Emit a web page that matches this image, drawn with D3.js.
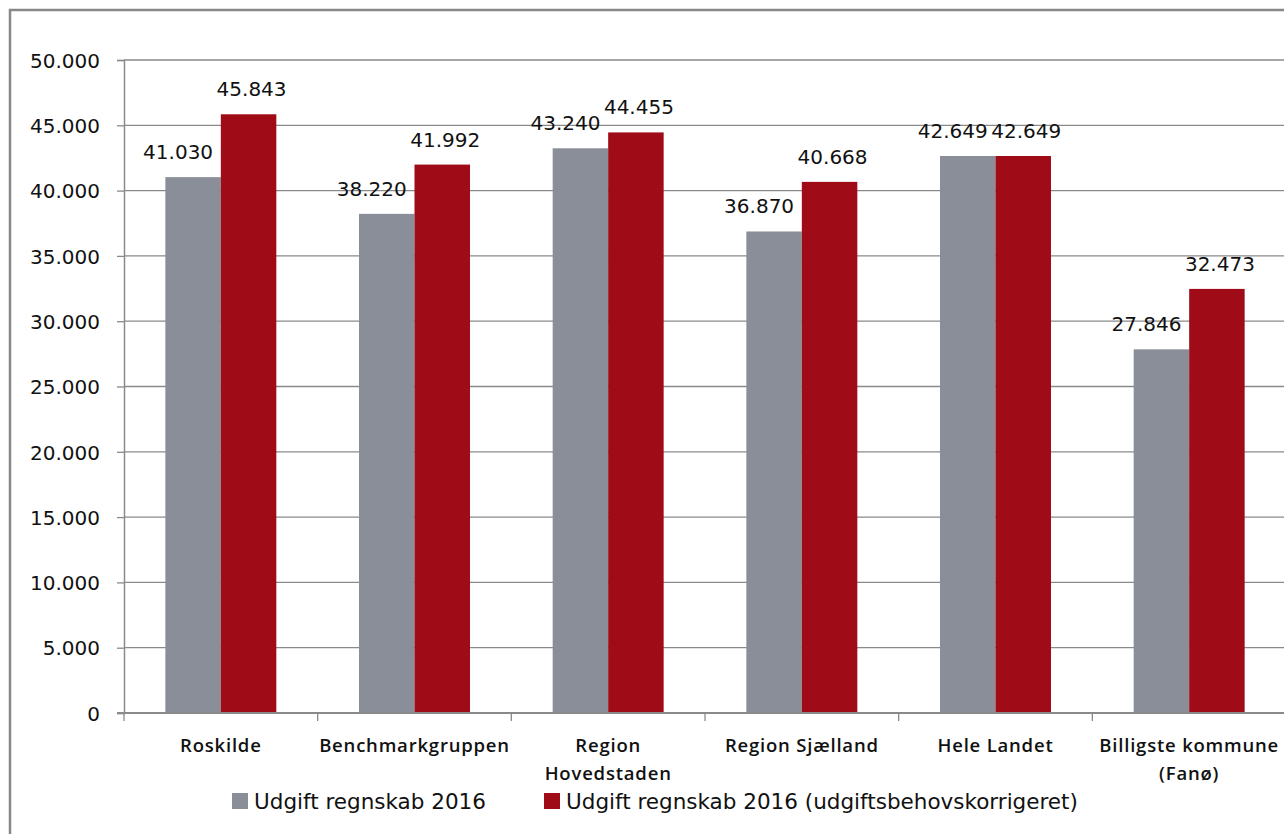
<!DOCTYPE html>
<html>
<head>
<meta charset="utf-8">
<script src="https://cdnjs.cloudflare.com/ajax/libs/d3/7.8.5/d3.min.js"></script>
<style>
  body { margin: 0; background: #fff; overflow: hidden; }
  svg { display: block; }
</style>
</head>
<body>
<svg id="chart" width="1284" height="834"></svg>
<script>
const categories = [
  ["Roskilde"],
  ["Benchmarkgruppen"],
  ["Region", "Hovedstaden"],
  ["Region Sjælland"],
  ["Hele Landet"],
  ["Billigste kommune", "(Fanø)"]
];
const seriesNames = ["Udgift regnskab 2016", "Udgift regnskab 2016 (udgiftsbehovskorrigeret)"];
const regnskab = [41030, 38220, 43240, 36870, 42649, 27846];
const korrigeret = [45843, 41992, 44455, 40668, 42649, 32473];
const yTicks = [0, 5000, 10000, 15000, 20000, 25000, 30000, 35000, 40000, 45000, 50000];
const colors = ["#8a8e98", "#a00b18"];

const locale = d3.formatLocale({ decimal: ",", thousands: ".", grouping: [3], currency: ["", " kr."] });
const fmt = locale.format(",d");

const svg = d3.select("#chart");
const gridColor = "#8a8a8a";

// outer chart frame (runs off the picture on the right and bottom)
svg.append("rect")
  .attr("x", 10).attr("y", 10)
  .attr("width", 1400).attr("height", 1000)
  .attr("fill", "none")
  .attr("stroke", "#888")
  .attr("stroke-width", 2.5);

const margin = { left: 124, right: -2, top: 60, bottom: 121 };
const width = 1284 - margin.left - margin.right;
const height = 834 - margin.top - margin.bottom;

const g = svg.append("g").attr("transform", `translate(${margin.left},${margin.top})`);

const keys = categories.map(c => c.join(" "));
const x0 = d3.scaleBand().domain(keys).range([0, width]).padding(0);
const x1 = d3.scaleBand().domain([0, 1]).range([0, x0.bandwidth()]).paddingInner(0).paddingOuter(0.745);
const y = d3.scaleLinear().domain([0, 50000]).range([height, 0]);

// gridlines
g.append("g")
  .selectAll("line")
  .data(yTicks.filter(d => d > 0))
  .join("line")
  .attr("x1", 0).attr("x2", width)
  .attr("y1", d => y(d)).attr("y2", d => y(d))
  .attr("stroke", gridColor)
  .attr("stroke-width", 1.3);

// bars
const rows = keys.map((k, i) => ({ key: k, values: [regnskab[i], korrigeret[i]] }));
const groups = g.append("g").selectAll("g").data(rows).join("g")
  .attr("transform", d => `translate(${x0(d.key)},0)`);

groups.selectAll("rect")
  .data(d => d.values.map((v, s) => ({ v, s })))
  .join("rect")
  .attr("x", d => x1(d.s))
  .attr("width", x1.bandwidth())
  .attr("y", d => y(d.v))
  .attr("height", d => y(0) - y(d.v))
  .attr("fill", d => colors[d.s]);

// value labels
groups.selectAll("text")
  .data(d => d.values.map((v, s) => ({ v, s })))
  .join("text")
  .attr("x", d => x1(d.s) + x1.bandwidth() / 2 + (d.s === 0 ? -15 : 3))
  .attr("y", d => y(d.v) - 18)
  .attr("text-anchor", "middle")
  .attr("font-family", "DejaVu Sans")
  .attr("font-size", "20px")
  .attr("fill", "#111")
  .text(d => fmt(d.v));

// y axis
const yAxis = g.append("g")
  .call(d3.axisLeft(y).tickValues(yTicks).tickSize(7).tickPadding(17).tickFormat(d => d === 0 ? "0" : fmt(d)));
yAxis.select(".domain").attr("stroke", gridColor).attr("stroke-width", 1.5);
yAxis.selectAll(".tick line").attr("stroke", gridColor).attr("stroke-width", 1.3);
yAxis.selectAll(".tick text")
  .attr("font-family", "DejaVu Sans")
  .attr("font-size", "20px")
  .attr("fill", "#111")
  .attr("dy", "0.36em");

// x axis
const xAxisG = g.append("g").attr("transform", `translate(0,${height})`);
xAxisG.append("line")
  .attr("x1", -7).attr("x2", width)
  .attr("stroke", gridColor).attr("stroke-width", 2);
xAxisG.selectAll("line.tick")
  .data(keys)
  .join("line")
  .attr("class", "tick")
  .attr("x1", d => x0(d)).attr("x2", d => x0(d))
  .attr("y1", 0).attr("y2", 8)
  .attr("stroke", gridColor).attr("stroke-width", 1.3);

const catLabels = xAxisG.selectAll("text.cat")
  .data(categories)
  .join("text")
  .attr("class", "cat")
  .attr("text-anchor", "middle")
  .attr("font-family", "Open Sans")
  .attr("font-weight", 600)
  .attr("font-size", "18.5px")
  .attr("letter-spacing", "0.8px")
  .attr("fill", "#111")
  .attr("transform", (d, i) => `translate(${x0(keys[i]) + x0.bandwidth() / 2},39)`);
catLabels.selectAll("tspan")
  .data(d => d)
  .join("tspan")
  .attr("x", 0)
  .attr("dy", (d, i) => i === 0 ? 0 : 28)
  .text(d => d);

// legend
const legendX = [232, 544];
const legend = svg.append("g").attr("transform", "translate(0,793)");
const items = legend.selectAll("g").data(seriesNames).join("g")
  .attr("transform", (d, i) => `translate(${legendX[i]},0)`);
items.append("rect")
  .attr("width", 16).attr("height", 16)
  .attr("fill", (d, i) => colors[i]);
items.append("text")
  .attr("x", 22).attr("y", 16)
  .attr("font-family", "DejaVu Sans")
  .attr("font-size", "21.5px")
  .attr("fill", "#111")
  .text(d => d);
</script>
</body>
</html>
